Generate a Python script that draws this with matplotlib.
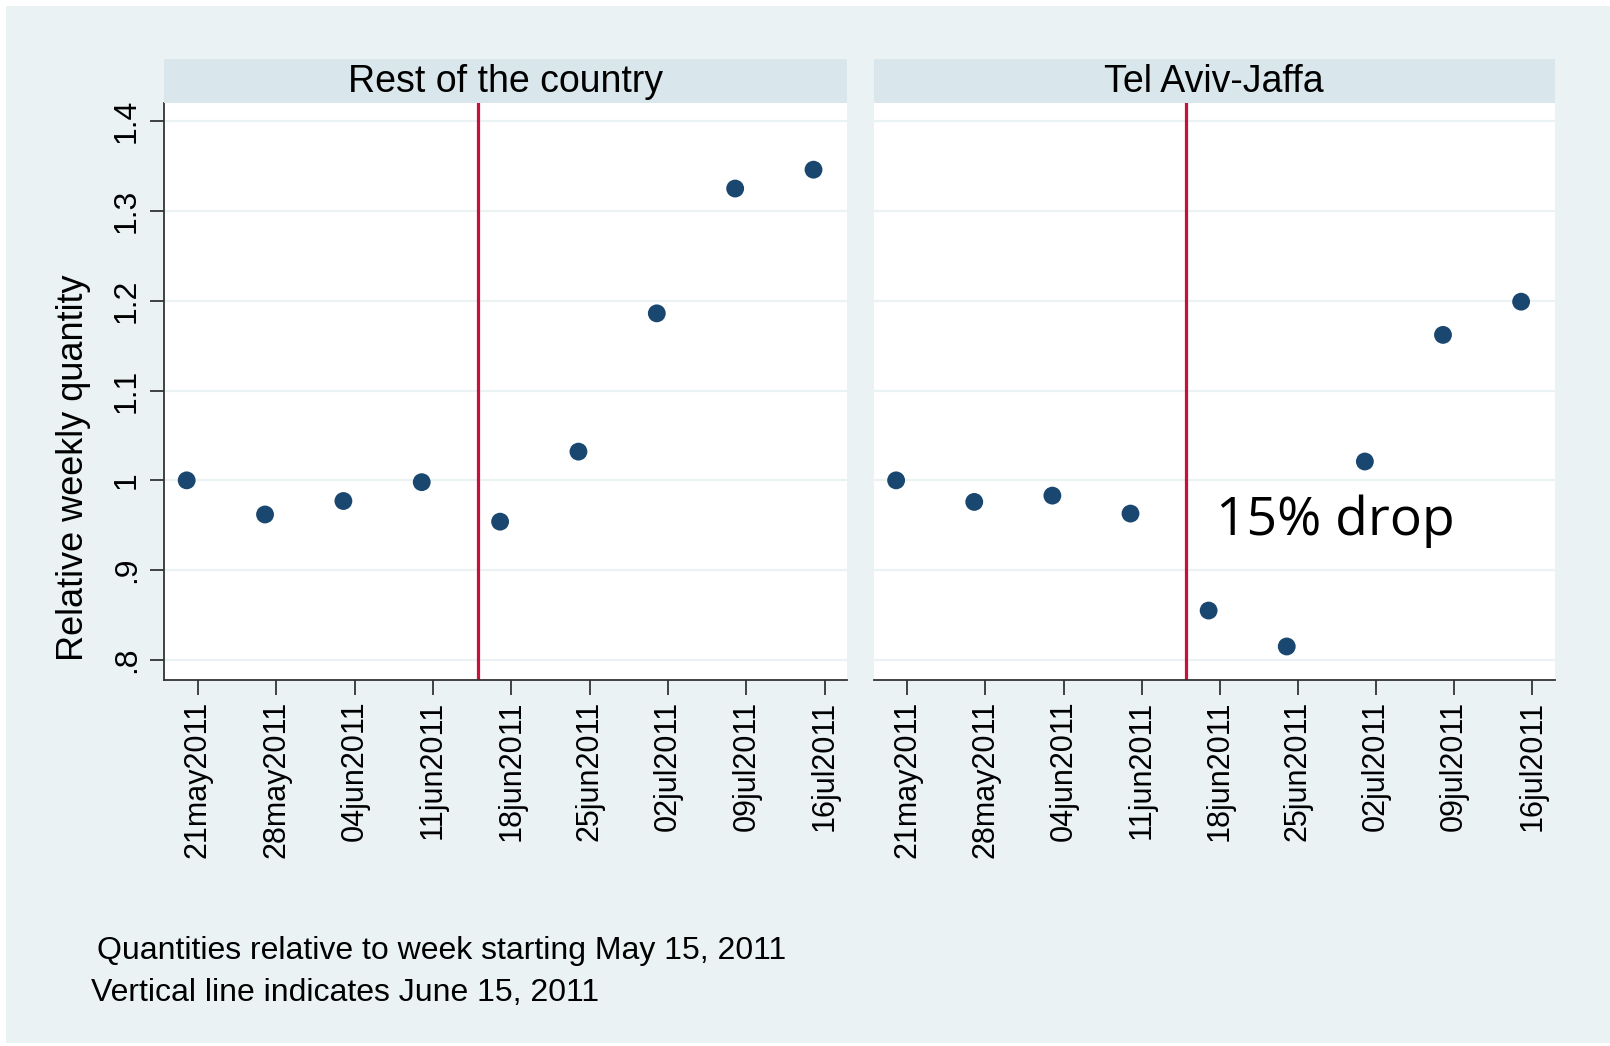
import matplotlib
matplotlib.use("Agg")
import matplotlib.pyplot as plt
import matplotlib.dates as mdates
from matplotlib.patches import Rectangle
import numpy as np
import pandas as pd

# Weekly quantities relative to the week starting May 15, 2011
tick_dates = ["2011-05-21", "2011-05-28", "2011-06-04", "2011-06-11", "2011-06-18",
              "2011-06-25", "2011-07-02", "2011-07-09", "2011-07-16"]
obs_dates = ["2011-05-20", "2011-05-27", "2011-06-03", "2011-06-10", "2011-06-17",
             "2011-06-24", "2011-07-01", "2011-07-08", "2011-07-15"]
rest_of_country = [1.000, 0.962, 0.977, 0.998, 0.954, 1.032, 1.186, 1.325, 1.346]
tel_aviv = [1.000, 0.976, 0.983, 0.963, 0.855, 0.815, 1.021, 1.162, 1.199]
panel_titles = ["Rest of the country", "Tel Aviv-Jaffa"]
event_date = "2011-06-15"
y_ticks = [0.8, 0.9, 1.0, 1.1, 1.2, 1.3, 1.4]
y_ticklabels = [".8", ".9", "1", "1.1", "1.2", "1.3", "1.4"]
notes = ["Quantities relative to week starting May 15, 2011",
         "Vertical line indicates June 15, 2011"]

BG = "#eaf2f3"
STRIP = "#d9e6eb"
NAVY = "#1a476f"
RED = "#c8103a"
FONT = "Liberation Sans"

W, H = 1610, 1046
fig = plt.figure(figsize=(W / 100, H / 100), dpi=100, facecolor="white")
fig.patches.append(Rectangle((6 / W, 3 / H), 1 - 6 / W, 1 - 9 / H,
                             transform=fig.transFigure, facecolor=BG,
                             edgecolor="none", zorder=-10))

ticks = pd.to_datetime(tick_dates)
obs = pd.to_datetime(obs_dates)
xlim = (pd.Timestamp("2011-05-18"), pd.Timestamp("2011-07-18"))

lefts = [164.3 / W, 873.8 / W]
widths = [682.8 / W, 680.8 / W]
bottom = 1 - 679.7 / H
height = (679.7 - 102.7) / H
strip_h = (102.7 - 58.5) / H

series = [rest_of_country, tel_aviv]
axes = []
for i in range(2):
    ax = fig.add_axes([lefts[i], bottom, widths[i], height])
    ax.set_facecolor("white")
    ax.set_xlim(mdates.date2num(xlim[0]), mdates.date2num(xlim[1]))
    ax.set_ylim(0.778, 1.4206)
    for yv in y_ticks:
        ax.axhline(yv, color=BG, lw=1.6, zorder=1)
    ax.axvline(mdates.date2num(pd.Timestamp(event_date)), color=RED, lw=2.3, zorder=2)
    ax.scatter(mdates.date2num(obs), series[i], s=165, color=NAVY,
               edgecolors="none", zorder=3)
    ax.set_xticks(mdates.date2num(ticks))
    ax.set_xticklabels([d.strftime("%d%b%Y").lower() for d in ticks],
                       rotation=90, fontsize=22, family=FONT)
    ax.set_yticks(y_ticks)
    if i == 0:
        ax.set_yticklabels(y_ticklabels, rotation=90, va="center",
                           fontsize=23, family=FONT)
        ax.set_ylabel("Relative weekly quantity", fontsize=26, family=FONT)
        ax.yaxis.set_label_coords(-0.108, 0.367)
        ax.tick_params(axis="y", length=10, width=1.3, color="#333333", pad=6)
    else:
        ax.tick_params(axis="y", left=False, labelleft=False)
        ax.spines["left"].set_visible(False)
    ax.tick_params(axis="x", length=11, width=1.3, color="#333333", pad=4)
    for s in ["top", "right"]:
        ax.spines[s].set_visible(False)
    ax.spines["bottom"].set_color("#333333")
    ax.spines["bottom"].set_linewidth(1.3)
    if i == 0:
        ax.spines["left"].set_color("#333333")
        ax.spines["left"].set_linewidth(1.3)

    strip = fig.add_axes([lefts[i], bottom + height, widths[i], strip_h])
    strip.set_facecolor(STRIP)
    strip.set_xticks([])
    strip.set_yticks([])
    for s in strip.spines.values():
        s.set_visible(False)
    strip.text(0.5, 0.46, panel_titles[i], ha="center", va="center",
               fontsize=27, family=FONT, transform=strip.transAxes)
    axes.append(ax)

axes[1].text(0.502, 0.275, "15% drop", transform=axes[1].transAxes,
             ha="left", va="center", fontsize=38.5, family="Open Sans")

fig.text(97 / W, 1 - 951 / H, notes[0], ha="left", va="center",
         fontsize=23, family=FONT)
fig.text(91 / W, 1 - 993 / H, notes[1], ha="left", va="center",
         fontsize=23, family=FONT)

fig.savefig("out.png", dpi=100, facecolor=fig.get_facecolor())
